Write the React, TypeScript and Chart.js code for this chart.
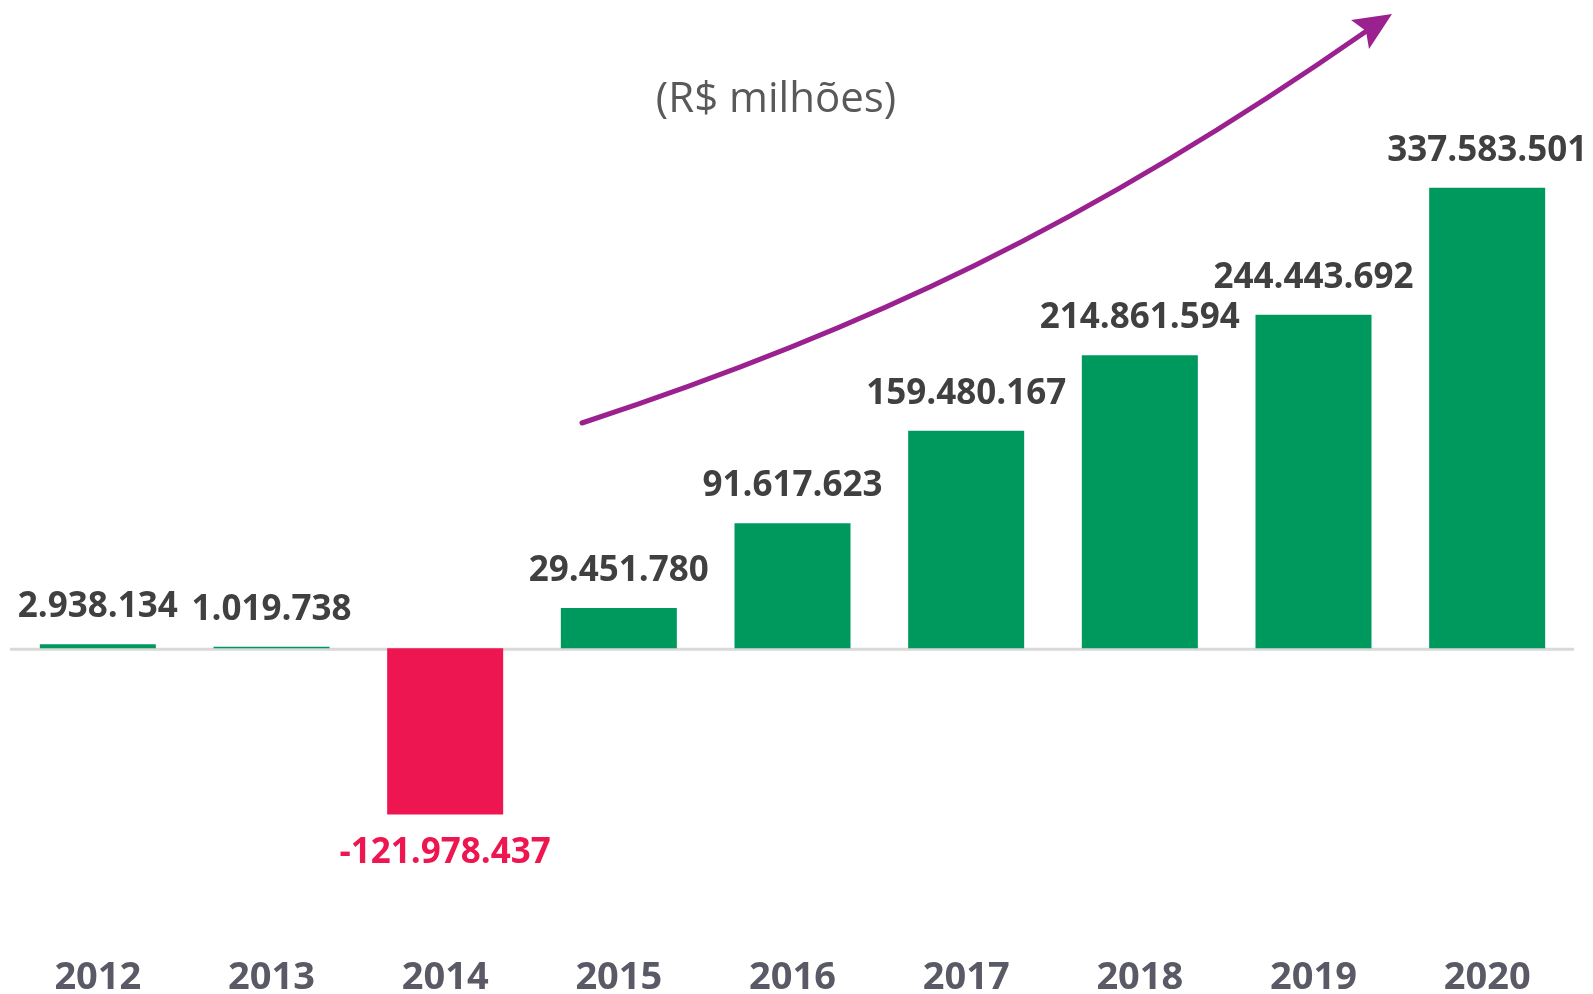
import React, { useEffect, useRef } from "react";
import { Chart, registerables } from "chart.js";

Chart.register(...registerables);

const categories = ["2012", "2013", "2014", "2015", "2016", "2017", "2018", "2019", "2020"];
const values = [2938134, 1019738, -121978437, 29451780, 91617623, 159480167, 214861594, 244443692, 337583501];
const valueLabels = ["2.938.134", "1.019.738", "-121.978.437", "29.451.780", "91.617.623", "159.480.167", "214.861.594", "244.443.692", "337.583.501"];
const unitTitle = "(R$ milhões)";

const GREEN = "#00995d";
const RED = "#ed1650";
const PURPLE = "#9b2190";
const FONT = "'Open Sans', 'Noto Sans', sans-serif";

const overlayPlugin = {
  id: "overlay",
  beforeDatasetsDraw(chart: any) {
    const ctx = chart.ctx;
    const y0 = chart.scales.y.getPixelForValue(0);
    const area = chart.chartArea;
    ctx.save();
    ctx.strokeStyle = "#d9d9d9";
    ctx.lineWidth = 3;
    ctx.beginPath();
    ctx.moveTo(area.left - 1, y0 + 1);
    ctx.lineTo(area.right, y0 + 1);
    ctx.stroke();
    ctx.restore();
  },
  afterDatasetsDraw(chart: any) {
    const ctx = chart.ctx;
    const meta = chart.getDatasetMeta(0);
    ctx.save();
    ctx.font = `700 35px ${FONT}`;
    ctx.textAlign = "center";
    ctx.textBaseline = "middle";
    meta.data.forEach((bar: any, i: number) => {
      const v = values[i];
      if (v >= 0) {
        ctx.fillStyle = "#404040";
        ctx.fillText(valueLabels[i], bar.x, bar.y - 37);
      } else {
        ctx.fillStyle = RED;
        ctx.fillText(valueLabels[i], bar.x, bar.y + 38);
      }
    });
    ctx.restore();
  },
  afterDraw(chart: any) {
    const ctx = chart.ctx;
    ctx.save();
    ctx.font = `400 42px ${FONT}`;
    ctx.fillStyle = "#595959";
    ctx.textAlign = "center";
    ctx.textBaseline = "middle";
    ctx.fillText(unitTitle, 776, 100);
    ctx.strokeStyle = PURPLE;
    ctx.fillStyle = PURPLE;
    ctx.lineWidth = 5;
    ctx.lineCap = "round";
    ctx.beginPath();
    ctx.moveTo(582, 423);
    ctx.bezierCurveTo(862, 331, 1087, 226, 1368, 30);
    ctx.stroke();
    ctx.beginPath();
    ctx.moveTo(1392, 14);
    ctx.lineTo(1351, 20);
    ctx.lineTo(1366, 31);
    ctx.lineTo(1369, 49);
    ctx.closePath();
    ctx.fill();
    ctx.restore();
  },
};

export default function App() {
  const canvasRef = useRef<HTMLCanvasElement>(null);

  useEffect(() => {
    document.body.style.margin = "0";
    document.body.style.overflow = "hidden";
    const canvas = canvasRef.current;
    if (!canvas) return;
    const chart = new Chart(canvas, {
      type: "bar",
      data: {
        labels: categories,
        datasets: [
          {
            data: values,
            backgroundColor: values.map((v) => (v < 0 ? RED : GREEN)),
            borderWidth: 0,
            categoryPercentage: 1,
            barPercentage: 0.668,
          },
        ],
      },
      options: {
        animation: false,
        responsive: false,
        maintainAspectRatio: false,
        layout: { padding: { top: 100, left: 11, right: 19, bottom: -3 } },
        plugins: {
          legend: { display: false },
          tooltip: { enabled: false },
          title: { display: false },
        },
        scales: {
          x: {
            grid: { display: false },
            border: { display: false },
            ticks: {
              color: "#595a65",
              font: { family: FONT, size: 38, weight: "bold", lineHeight: 1 },
              padding: 0,
              maxRotation: 0,
            },
          },
          y: {
            display: false,
            min: -222000000,
            max: 402000000,
          },
        },
      },
      plugins: [overlayPlugin],
    });
    return () => chart.destroy();
  }, []);

  return (
    <div style={{ width: 1593, height: 994, background: "#fff" }}>
      <canvas ref={canvasRef} width={1593} height={994} />
    </div>
  );
}
